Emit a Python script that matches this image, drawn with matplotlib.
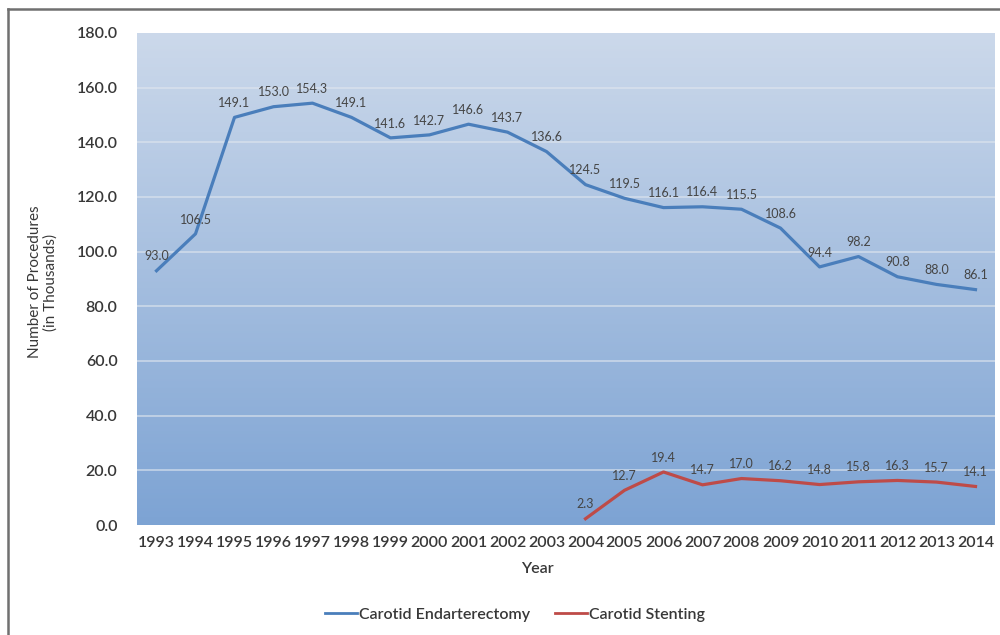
import matplotlib.pyplot as plt
import numpy as np
from matplotlib.lines import Line2D

years = [str(y) for y in range(1993, 2015)]
endarterectomy = [93.0, 106.5, 149.1, 153.0, 154.3, 149.1, 141.6, 142.7, 146.6, 143.7, 136.6,
                  124.5, 119.5, 116.1, 116.4, 115.5, 108.6, 94.4, 98.2, 90.8, 88.0, 86.1]
stent_years = [str(y) for y in range(2004, 2015)]
stenting = [2.3, 12.7, 19.4, 14.7, 17.0, 16.2, 14.8, 15.8, 16.3, 15.7, 14.1]
y_ticks = [0, 20, 40, 60, 80, 100, 120, 140, 160, 180]

plt.rcParams['font.family'] = ['Lato', 'DejaVu Sans']

fig = plt.figure(figsize=(10, 6.35), dpi=100)
ax = fig.add_axes([0.137, 0.1732, 0.858, 0.775])

x_all = np.arange(len(years))
x_st = np.array([years.index(y) for y in stent_years])

# gradient background (light at top, darker blue at bottom)
top = np.array([0.80, 0.85, 0.92])
bot = np.array([0.49, 0.64, 0.83])
t = np.linspace(0, 1, 256)[:, None]
grad = top * (1 - t) + bot * t
grad = np.repeat(grad[:, None, :], 2, axis=1)
ax.imshow(grad, extent=[-0.5, len(years) - 0.5, 0, 180], aspect='auto', zorder=0)

for yv in y_ticks[1:-1]:
    ax.axhline(yv, color='#dfe6ee', lw=1.2, alpha=0.7, zorder=1)

blue = '#4a7ebb'
red = '#be4b48'
ax.plot(x_all, endarterectomy, color=blue, lw=2.3, zorder=3, solid_joinstyle='round')
ax.plot(x_st, stenting, color=red, lw=2.3, zorder=3, solid_joinstyle='round')

for xi, v in zip(x_all, endarterectomy):
    ax.annotate(f'{v:.1f}', (xi, v), xytext=(0, 6), textcoords='offset points',
                ha='center', va='bottom', fontsize=9, color='#454545', zorder=4)
for xi, v in zip(x_st, stenting):
    ax.annotate(f'{v:.1f}', (xi, v), xytext=(0, 6), textcoords='offset points',
                ha='center', va='bottom', fontsize=9, color='#454545', zorder=4)

ax.set_xlim(-0.5, len(years) - 0.5)
ax.set_ylim(0, 180)
ax.set_xticks(x_all)
ax.set_xticklabels(years)
ax.set_yticks(y_ticks)
ax.set_yticklabels([f'{v:.1f}' for v in y_ticks])
ax.tick_params(length=0, labelsize=11.5, colors='#383838')
ax.tick_params(axis='y', pad=14)
ax.tick_params(axis='x', pad=8)
for lab in ax.get_xticklabels() + ax.get_yticklabels():
    lab.set_fontweight('semibold')
for s in ax.spines.values():
    s.set_visible(False)

fig.text(0.537, 1 - 569 / 635, 'Year', ha='center', va='center', fontsize=11.5,
         fontweight='semibold', color='#383838')
fig.text(0.043, 1 - 282 / 635, 'Number of Procedures\n(in Thousands)', ha='center',
         va='center', rotation=90, fontsize=11, color='#383838', linespacing=1.15)

handles = [Line2D([], [], color=blue, lw=2), Line2D([], [], color=red, lw=2)]
leg = fig.legend(handles, ['Carotid Endarterectomy', 'Carotid Stenting'], ncol=2,
                 loc='center', bbox_to_anchor=(0.515, 1 - 615 / 635), frameon=False,
                 prop={'size': 11.5, 'weight': 'semibold'}, handlelength=2.0,
                 handletextpad=0.1, columnspacing=1.6)
for txt in leg.get_texts():
    txt.set_color('#383838')

# outer frame (top and left edges visible)
fig.add_artist(Line2D([8 / 1000, 1.0], [1 - 9 / 635, 1 - 9 / 635], color='#707070', lw=1.8,
                      transform=fig.transFigure))
fig.add_artist(Line2D([8 / 1000, 8 / 1000], [0, 1 - 9 / 635], color='#707070', lw=1.8,
                      transform=fig.transFigure))

fig.savefig('out.png', dpi=100)
